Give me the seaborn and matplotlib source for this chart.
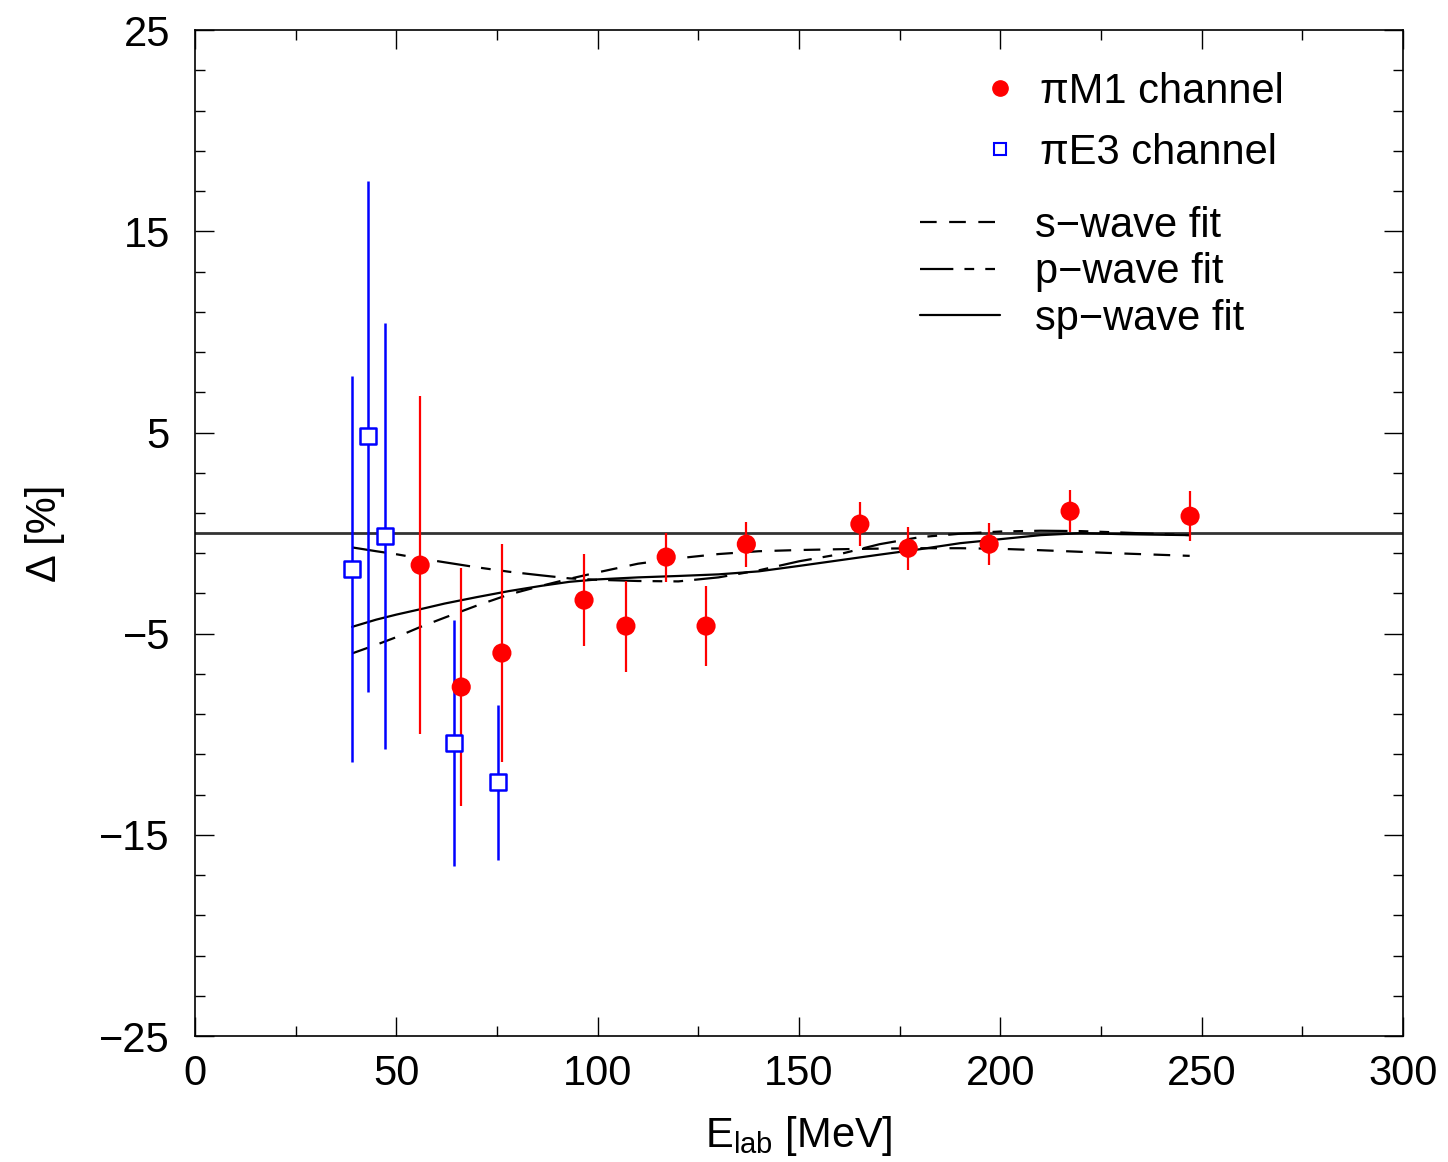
import numpy as np
import pandas as pd
import seaborn as sns
import matplotlib.pyplot as plt
from matplotlib.lines import Line2D
from matplotlib.ticker import FixedLocator

# pi M1 channel points
m1_E = [55.9, 66.1, 76.2, 96.6, 107.0, 117.0, 126.9, 136.9, 165.1, 177.1, 197.2, 217.3, 247.1]
m1_D = [-1.59, -7.65, -5.96, -3.33, -4.62, -1.19, -4.62, -0.55, 0.45, -0.75, -0.55, 1.09, 0.84]
m1_err = [8.4, 5.9, 5.4, 2.3, 2.26, 1.22, 2.0, 1.12, 1.1, 1.07, 1.04, 1.04, 1.25]

# pi E3 channel points
e3_E = [39.0, 43.0, 47.2, 64.3, 75.2]
e3_D = [-1.79, 4.82, -0.15, -10.44, -12.38]
e3_err = [9.6, 12.7, 10.6, 6.1, 3.85]

# fit curves
fit_E = [39, 45, 50, 56, 62, 70, 78, 86, 93, 100, 110, 120, 130, 140, 150,
         160, 170, 180, 190, 200, 210, 220, 230, 240, 247]
s_fit = [-5.98, -5.55, -5.17, -4.66, -4.2, -3.6, -3.05, -2.62, -2.27, -1.95, -1.52, -1.25, -1.04,
         -0.9, -0.84, -0.8, -0.77, -0.75, -0.75, -0.78, -0.85, -0.93, -1.01, -1.08, -1.13]
p_fit = [-0.71, -0.9, -1.05, -1.26, -1.45, -1.7, -1.92, -2.1, -2.25, -2.32, -2.38, -2.4, -2.2,
         -1.85, -1.4, -1.05, -0.55, -0.2, -0.03, 0.08, 0.12, 0.1, 0.03, -0.05, -0.1]
sp_fit = [-4.66, -4.3, -4.05, -3.78, -3.5, -3.18, -2.88, -2.62, -2.42, -2.3, -2.2, -2.13, -2.05,
          -1.9, -1.63, -1.35, -1.07, -0.8, -0.5, -0.3, -0.1, 0.0, -0.05, -0.08, -0.1]

sns.set_style('ticks')
plt.rcParams['font.family'] = ['Liberation Sans', 'DejaVu Sans']
plt.rcParams['mathtext.default'] = 'regular'
plt.rcParams['lines.scale_dashes'] = False
for k in ['text.color', 'axes.labelcolor', 'xtick.color', 'ytick.color', 'axes.edgecolor']:
    plt.rcParams[k] = 'black'

FS = 30
fig = plt.figure(figsize=(14.48, 11.62), dpi=100)
ax = fig.add_axes([0.1347, 0.1084, 0.8343, 0.8656])

fits = pd.DataFrame({'E': fit_E, 's': s_fit, 'p': p_fit, 'sp': sp_fit})
s_dash = (0, (12, 9))
p_dash = (0, (24, 8, 7, 8, 7, 8))

ax.axhline(0, color='#333333', lw=2, zorder=1)
sns.lineplot(x='E', y='s', data=fits, ax=ax, color='k', lw=1.6, linestyle=s_dash, zorder=2)
sns.lineplot(x='E', y='p', data=fits, ax=ax, color='k', lw=1.6, linestyle=p_dash, zorder=2)
sns.lineplot(x='E', y='sp', data=fits, ax=ax, color='k', lw=1.6, zorder=2)

ax.errorbar(m1_E, m1_D, yerr=m1_err, fmt='none', ecolor='red', elinewidth=1.6, capsize=0, zorder=3)
ax.errorbar(e3_E, e3_D, yerr=e3_err, fmt='none', ecolor='#0000ff', elinewidth=1.8, capsize=0, zorder=3)
sns.scatterplot(x=m1_E, y=m1_D, ax=ax, color='red', s=190, marker='o', edgecolor='none', zorder=4)
sns.scatterplot(x=e3_E, y=e3_D, ax=ax, facecolor='white', edgecolor='#0000ff', s=120, marker='s',
                linewidth=1.8, zorder=4)

ax.set_xlim(0, 300)
ax.set_ylim(-25, 25)
ax.set_xticks([0, 50, 100, 150, 200, 250, 300])
ax.xaxis.set_minor_locator(FixedLocator(np.arange(0, 301, 25)))
ax.set_yticks([-25, -15, -5, 5, 15, 25])
ax.yaxis.set_minor_locator(FixedLocator(np.arange(-25, 26, 2)))
ax.set_yticklabels(['\u221225', '\u221215', '\u22125', '5', '15', '25'])
ax.tick_params(which='both', direction='in', top=True, right=True, labelsize=FS)
ax.tick_params(axis='x', pad=13)
ax.tick_params(axis='y', pad=18)
ax.tick_params(which='major', length=14, width=1)
ax.tick_params(which='minor', length=7, width=1)
for sp in ax.spines.values():
    sp.set_linewidth(1.2)

ax.set_xlabel('E$_{lab}$ [MeV]', fontsize=FS, labelpad=14)
ax.set_ylabel('\u0394 [%]', fontsize=FS, labelpad=25)

h1 = [Line2D([], [], ls='none', marker='o', color='red', markersize=11),
      Line2D([], [], ls='none', marker='s', mfc='white', mec='#0000ff', mew=1.5, markersize=9)]
leg1 = ax.legend(h1, ['\u03c0M1 channel', '\u03c0E3 channel'], loc='upper left',
                 bbox_to_anchor=(0.618, 0.996), frameon=False, fontsize=FS,
                 handlelength=1.0, handletextpad=0.46, labelspacing=0.5)
ax.add_artist(leg1)
h2 = [Line2D([], [], color='k', lw=1.6, ls=s_dash),
      Line2D([], [], color='k', lw=1.6, ls=p_dash),
      Line2D([], [], color='k', lw=1.6)]
ax.legend(h2, ['s\u2212wave fit', 'p\u2212wave fit', 'sp\u2212wave fit'], loc='upper left',
          bbox_to_anchor=(0.569, 0.863), frameon=False, fontsize=FS,
          handlelength=1.92, handletextpad=0.84, labelspacing=0.16)

fig.savefig('out.png', dpi=100)
